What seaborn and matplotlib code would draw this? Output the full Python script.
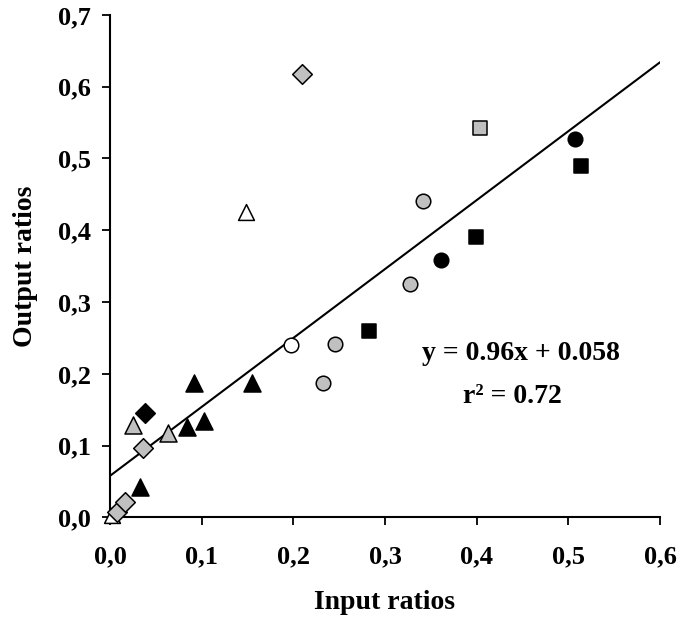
import matplotlib
matplotlib.use("Agg")
import matplotlib.pyplot as plt
import numpy as np
import pandas as pd
import seaborn as sns

# Observed ratios, grouped by marker type
black_tri_x = [0.033, 0.0835, 0.0915, 0.1025, 0.155]
black_tri_y = [0.042, 0.126, 0.187, 0.135, 0.188]
gray_tri_x = [0.0254, 0.0635]
gray_tri_y = [0.129, 0.118]
white_tri_x = [0.002, 0.148]
white_tri_y = [0.003, 0.426]
black_dia_x = [0.038]
black_dia_y = [0.145]
gray_dia_x = [0.0073, 0.0163, 0.0363, 0.209]
gray_dia_y = [0.008, 0.022, 0.097, 0.617]
white_circ_x = [0.198]
white_circ_y = [0.240]
gray_circ_x = [0.2324, 0.246, 0.327, 0.342]
gray_circ_y = [0.187, 0.2417, 0.325, 0.441]
black_circ_x = [0.3613, 0.5076]
black_circ_y = [0.358, 0.527]
black_sq_x = [0.2825, 0.399, 0.514]
black_sq_y = [0.260, 0.391, 0.490]
gray_sq_x = [0.404]
gray_sq_y = [0.543]

# Fitted regression line
slope = 0.96
intercept = 0.058
r_squared = 0.72

x_ticks = [0.0, 0.1, 0.2, 0.3, 0.4, 0.5, 0.6]
x_tick_labels = ["0,0", "0,1", "0,2", "0,3", "0,4", "0,5", "0,6"]
y_ticks = [0.0, 0.1, 0.2, 0.3, 0.4, 0.5, 0.6, 0.7]
y_tick_labels = ["0,0", "0,1", "0,2", "0,3", "0,4", "0,5", "0,6", "0,7"]

sns.set_theme(style="ticks")
plt.rcParams["font.family"] = ["Liberation Serif", "DejaVu Serif"]
plt.rcParams["font.weight"] = "bold"
plt.rcParams["text.color"] = "black"
plt.rcParams["axes.labelcolor"] = "black"

fig = plt.figure(figsize=(6.94, 6.21), dpi=100)
ax = fig.add_axes([0.1585, 0.1667, 0.7925, 0.8093])

GRAY = "#c0c0c0"
groups = [
    (black_tri_x, black_tri_y, "^", "black", 150),
    (gray_tri_x, gray_tri_y, "^", GRAY, 150),
    (white_tri_x, white_tri_y, "^", "white", 130),
    (black_dia_x, black_dia_y, "D", "black", 100),
    (gray_dia_x, gray_dia_y, "D", GRAY, 100),
    (white_circ_x, white_circ_y, "o", "white", 110),
    (gray_circ_x, gray_circ_y, "o", GRAY, 110),
    (black_circ_x, black_circ_y, "o", "black", 110),
    (black_sq_x, black_sq_y, "s", "black", 95),
    (gray_sq_x, gray_sq_y, "s", GRAY, 95),
]

# Regression line across the full input range
line_x = np.array([0.0, 0.6])
line_df = pd.DataFrame({"x": line_x, "y": slope * line_x + intercept})
sns.lineplot(data=line_df, x="x", y="y", ax=ax, color="black", linewidth=1.5, zorder=2)

for gx, gy, marker, fill, size in groups:
    df = pd.DataFrame({"x": gx, "y": gy})
    sns.scatterplot(data=df, x="x", y="y", ax=ax, marker=marker, color=fill,
                    edgecolor="black", linewidth=1.1, s=size, zorder=3, clip_on=False)

ax.set_xlim(0, 0.6)
ax.set_ylim(0, 0.7)
ax.set_xticks(x_ticks)
ax.set_xticklabels(x_tick_labels)
ax.set_yticks(y_ticks)
ax.set_yticklabels(y_tick_labels)
ax.tick_params(axis="both", direction="out", length=6, width=1.3, colors="black",
               labelsize=19)
ax.tick_params(axis="x", pad=14)
ax.tick_params(axis="y", pad=8)
for lab in ax.get_xticklabels() + ax.get_yticklabels():
    lab.set_fontweight("bold")
    lab.set_color("black")

sns.despine(ax=ax)
for side in ("left", "bottom"):
    ax.spines[side].set_linewidth(1.5)
    ax.spines[side].set_color("black")

ax.set_xlabel("Input ratios", fontsize=20, fontweight="bold", color="black")
ax.set_ylabel("Output ratios", fontsize=20, fontweight="bold", color="black")
ax.xaxis.set_label_coords(0.5, -0.170)
ax.xaxis.label.set_verticalalignment("center")
ax.yaxis.set_label_coords(-0.153, 0.5)
ax.yaxis.label.set_verticalalignment("center")

ax.text(0.448, 0.229, f"y = {slope}x + {intercept}", fontsize=20, fontweight="bold",
        ha="center", va="center", color="black")
ax.text(0.439, 0.168, f"r\u00b2 = {r_squared}", fontsize=20, fontweight="bold",
        ha="center", va="center", color="black")

fig.savefig("out.png", dpi=100)
